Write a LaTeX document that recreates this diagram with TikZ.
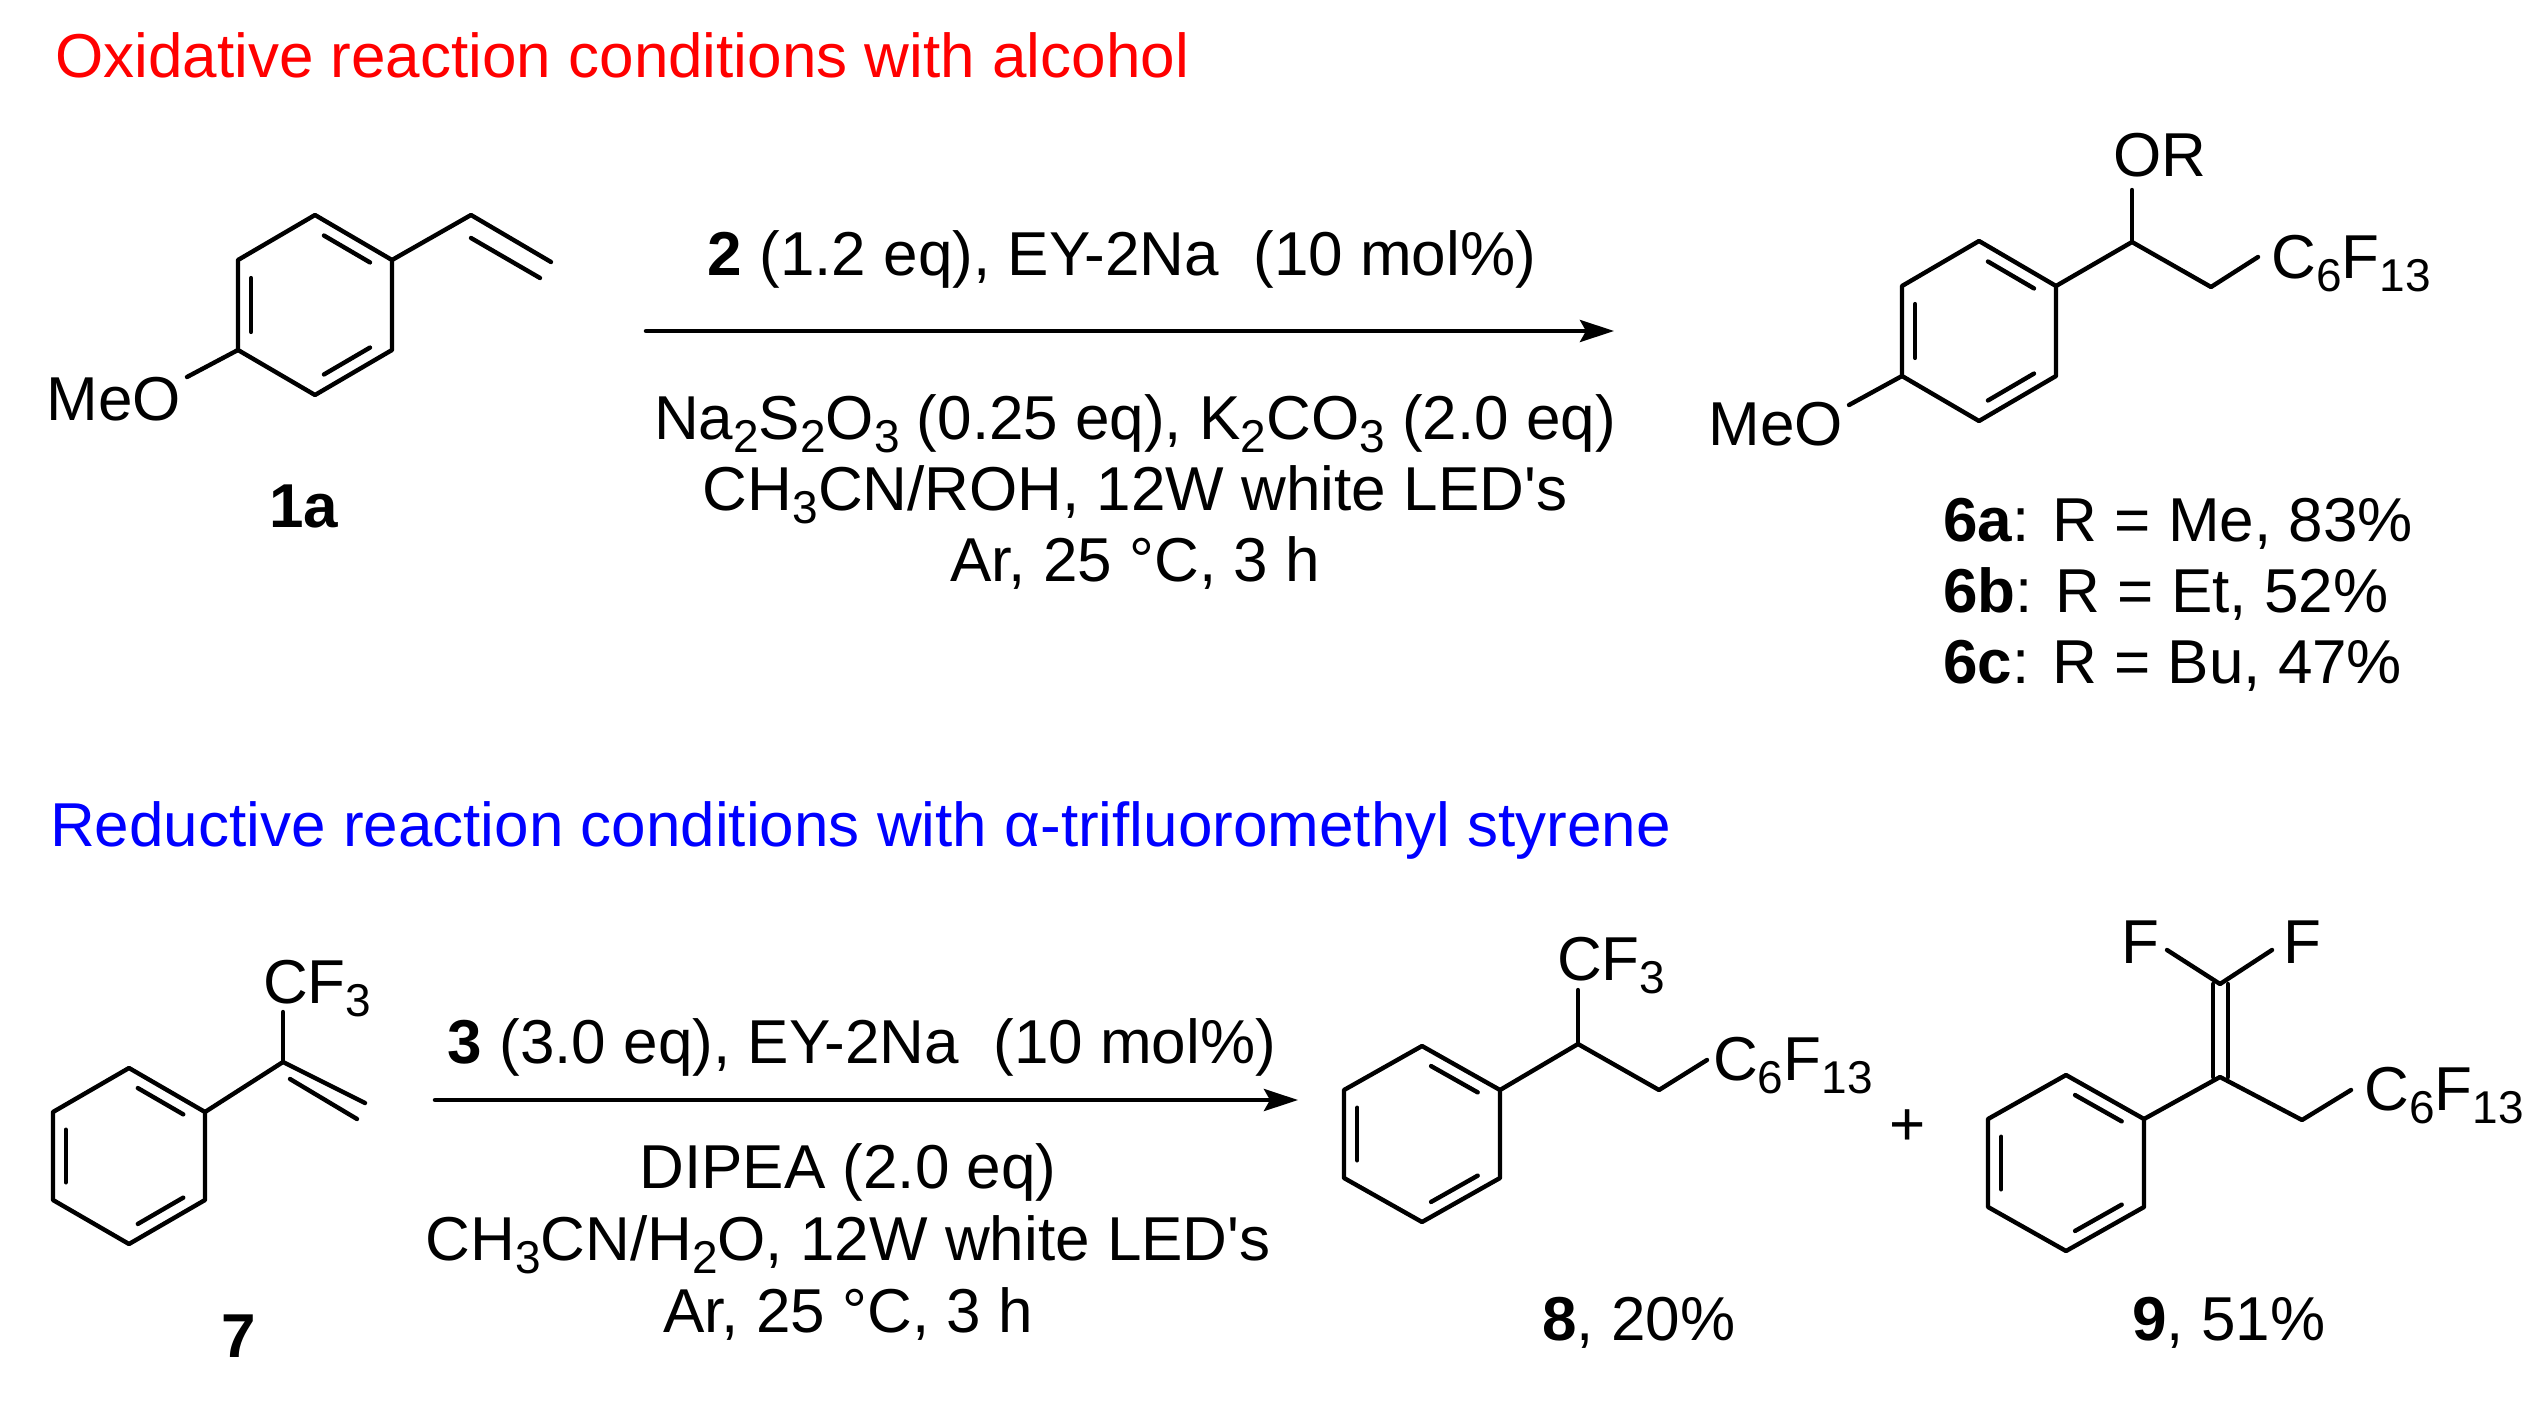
\documentclass[tikz,border=0pt]{standalone}
\usepackage{fontspec}
\setmainfont{Liberation Sans}
\usetikzlibrary{calc,arrows.meta}
\newcommand\fs{\fontsize{62}{74}\selectfont}
\newcommand\sbs[1]{\raisebox{-0.22em}{\fontsize{46}{50}\selectfont #1}}
\begin{document}
\begin{tikzpicture}[x=1pt,y=-1pt,line width=4.4pt,line cap=round,line join=round,
  txt/.style={inner sep=0pt,font=\fs},
  rxarrow/.style={line width=4.5pt,-{Stealth[length=34pt,width=22pt,inset=6pt]}}]
\fill[white] (0,0) rectangle (2532,1407);
\useasboundingbox (0,0) rectangle (2532,1407);
\newcommand\inner[3]{\draw ($(#1)!.14!(#2)!.17!(#3)$) -- ($(#2)!.14!(#1)!.17!(#3)$);}
\newcommand\ring[7]{%
  \coordinate (#1t) at (#2,#3-2*#5);
  \coordinate (#1ur) at (#2+#4,#3-#5);
  \coordinate (#1lr) at (#2+#4,#3+#5);
  \coordinate (#1b) at (#2,#3+2*#5);
  \coordinate (#1ll) at (#2-#4,#3+#5);
  \coordinate (#1ul) at (#2-#4,#3-#5);
  \coordinate (#1c) at (#2,#3);
  \draw (#1t)--(#1ur)--(#1lr)--(#1b)--(#1ll)--(#1ul)--cycle;
  \inner{#1t}{#1ur}{#1c}\inner{#1ul}{#1ll}{#1c}\inner{#1lr}{#1b}{#1c}}
% titles
\node[txt,anchor=base west,text=red] (t1) at (53,78) {Oxidative reaction conditions with alcohol};
\node[txt,anchor=base west,text=blue] (t2) at (48,846) {Reductive reaction conditions with α-trifluoromethyl styrene};
% 1a
\ring{a}{315}{305}{77}{45}{}{}
\coordinate (av1) at (471,215); \coordinate (av2) at (551,262);
\draw (aur)--(av1)--(av2);
\draw (471,238)--(540,278);
\node[txt,anchor=base east] (meo1) at (183,420) {MeO};
\coordinate (ao) at (187,377);
\draw (all)--(ao);
\node[txt,anchor=base,font=\fs\bfseries] (l1a) at (304,527) {1a};
% arrow 1
\coordinate (r1s) at (646,331); \coordinate (r1e) at (1614,331);
\draw[rxarrow] (r1s)--(r1e);
\node[txt,anchor=base] (c1) at (1122,275) {\textbf{2} (1.2 eq), EY-2Na\ \ (10 mol\%)};
\node[txt,anchor=base] (c2) at (1135,439) {Na\sbs{2}S\sbs{2}O\sbs{3} (0.25 eq), K\sbs{2}CO\sbs{3} (2.0 eq)};
\node[txt,anchor=base] (c3) at (1135,510) {CH\sbs{3}CN/ROH, 12W white LED\textquotesingle s};
\node[txt,anchor=base] (c4) at (1135,581) {Ar, 25 °C, 3 h};
% 6
\ring{b}{1979}{331}{77}{45}{}{}
\coordinate (bch) at (2132,242); \coordinate (bo) at (2132,190);
\coordinate (bc2) at (2211,287); \coordinate (bce) at (2258,257);
\draw (bur)--(bch)--(bc2)--(bce); \draw (bch)--(bo);
\node[txt,anchor=base west] (or) at (2111,177) {OR};
\node[txt,anchor=base west] (rf1) at (2269,278) {C\sbs{6}F\sbs{13}};
\node[txt,anchor=base east] (meo2) at (1845,445) {MeO};
\coordinate (bo2) at (1849,405);
\draw (bll)--(bo2);
\node[txt,anchor=base west] (y1) at (1941,541) {\textbf{6a}: R = Me, 83\%};
\node[txt,anchor=base west] (y2) at (1941,612) {\textbf{6b}: R = Et, 52\%};
\node[txt,anchor=base west] (y3) at (1941,683) {\textbf{6c}: R = Bu, 47\%};
% 7
\ring{c}{129}{1156}{76}{44}{}{}
\coordinate (cc) at (283,1062); \coordinate (ccf) at (283,1012);
\coordinate (cv) at (365,1103);
\draw (cur)--(cc)--(cv); \draw (cc)--(ccf);
\draw (290,1079)--(357,1119);
\node[txt,anchor=base west] (cf3a) at (261,1003) {CF\sbs{3}};
\node[txt,anchor=base,font=\fs\bfseries] (l7) at (239,1357) {7};
% arrow 2
\coordinate (r2s) at (435,1100); \coordinate (r2e) at (1298,1100);
\draw[rxarrow] (r2s)--(r2e);
\node[txt,anchor=base] (d1) at (862,1063) {\textbf{3} (3.0 eq), EY-2Na\ \ (10 mol\%)};
\node[txt,anchor=base] (d2) at (848,1188) {DIPEA (2.0 eq)};
\node[txt,anchor=base] (d3) at (848,1260) {CH\sbs{3}CN/H\sbs{2}O, 12W white LED\textquotesingle s};
\node[txt,anchor=base] (d4) at (848,1332) {Ar, 25 °C, 3 h};
% 8
\ring{d}{1422}{1134}{78}{44}{}{}
\coordinate (dch) at (1578,1044); \coordinate (dcf) at (1578,990);
\coordinate (dc2) at (1659,1090); \coordinate (dce) at (1707,1060);
\draw (dur)--(dch)--(dc2)--(dce); \draw (dch)--(dcf);
\node[txt,anchor=base west] (cf3b) at (1555,980) {CF\sbs{3}};
\node[txt,anchor=base west] (rf2) at (1711,1080) {C\sbs{6}F\sbs{13}};
\node[txt,anchor=base] (l8) at (1639,1340) {\textbf{8}, 20\%};
\node[txt] (plus) at (1908,1128) {+};
% 9
\ring{e}{2066}{1163}{78}{44}{}{}
\coordinate (ec) at (2220,1077); \coordinate (ecf) at (2220,984);
\coordinate (ef1) at (2167,950); \coordinate (ef2) at (2272,950);
\coordinate (ec2) at (2302,1120); \coordinate (ece) at (2351,1090);
\draw (eur)--(ec)--(ec2)--(ece);
\draw (2213,1077)--(2213,984); \draw (2228,1077)--(2228,984);
\draw (ef1)--(2220,984)--(ef2);
\node[txt,anchor=base east] (fa) at (2162,963) {F};
\node[txt,anchor=base west] (fb) at (2281,963) {F};
\node[txt,anchor=base west] (rf3) at (2362,1110) {C\sbs{6}F\sbs{13}};
\node[txt,anchor=base] (l9) at (2229,1340) {\textbf{9}, 51\%};
\end{tikzpicture}
\end{document}
